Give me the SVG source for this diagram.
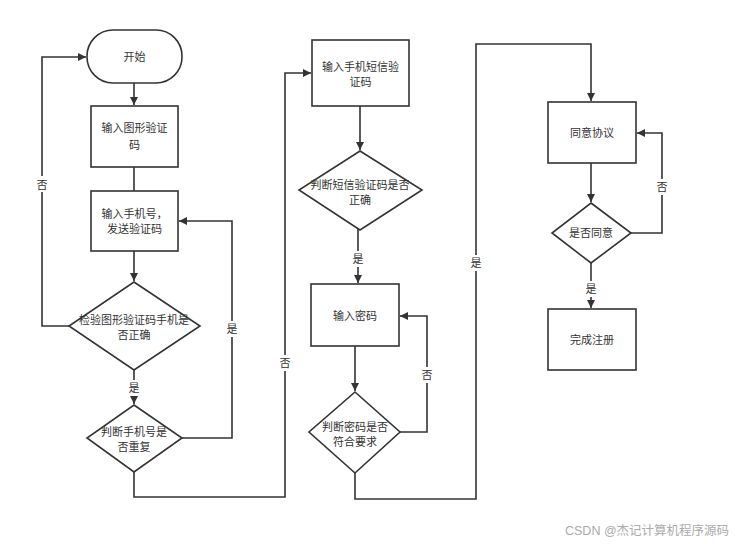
<svg xmlns="http://www.w3.org/2000/svg" width="745" height="544" viewBox="0 0 745 544">
<style>
.n{fill:#fff;stroke:#333;stroke-width:1.6}
.t{font-family:"Liberation Sans","Noto Sans CJK SC",sans-serif;font-size:11px;fill:#333;text-anchor:middle}
.c{fill:none;stroke:#333;stroke-width:1.6}
.lb{fill:#fff}
.wm{font-family:"Liberation Sans","Noto Sans CJK SC",sans-serif;font-size:12.5px;fill:#aaa}
</style>
<defs>
<marker id="a" viewBox="0 0 10 10" refX="10" refY="5" markerWidth="8" markerHeight="8" markerUnits="userSpaceOnUse" orient="auto">
<path d="M0,0 L10,5 L0,10 z" fill="#333"/>
</marker>
</defs>
<rect width="745" height="544" fill="#fff"/>
<g id="connectors">
<path class="c" d="M134,83 V105" marker-end="url(#a)"/>
<path class="c" d="M134,167 V191"/>
<path class="c" d="M134,251 V281" marker-end="url(#a)"/>
<path class="c" d="M69,326 H42 V57 H86" marker-end="url(#a)"/>
<path class="c" d="M134,370 V404" marker-end="url(#a)"/>
<path class="c" d="M182,438 H232 V221 H179" marker-end="url(#a)"/>
<path class="c" d="M134,472 V497 H285 V73 H311" marker-end="url(#a)"/>
<path class="c" d="M360,106 V150" marker-end="url(#a)"/>
<path class="c" d="M358,229 V283" marker-end="url(#a)"/>
<path class="c" d="M355,346 V391" marker-end="url(#a)"/>
<path class="c" d="M400,432 H427 V316 H400" marker-end="url(#a)"/>
<path class="c" d="M355,473 V499 H476 V44 H591 V101" marker-end="url(#a)"/>
<path class="c" d="M591,163 V202" marker-end="url(#a)"/>
<path class="c" d="M631,233 H662 V133 H637" marker-end="url(#a)"/>
<path class="c" d="M591,263 V308" marker-end="url(#a)"/>
<rect class="lb" x="35" y="176" width="14" height="16"/>
<text class="t" x="42" y="189">否</text>
<rect class="lb" x="127" y="380" width="14" height="16"/>
<text class="t" x="134" y="392">是</text>
<rect class="lb" x="225" y="321" width="14" height="16"/>
<text class="t" x="232" y="333">是</text>
<rect class="lb" x="278" y="355" width="14" height="16"/>
<text class="t" x="285" y="367">否</text>
<rect class="lb" x="351" y="251" width="14" height="16"/>
<text class="t" x="358" y="263">是</text>
<rect class="lb" x="420" y="367" width="14" height="16"/>
<text class="t" x="427" y="379">否</text>
<rect class="lb" x="469" y="255" width="14" height="16"/>
<text class="t" x="476" y="267">是</text>
<rect class="lb" x="655" y="179" width="14" height="16"/>
<text class="t" x="662" y="191">否</text>
<rect class="lb" x="584" y="281" width="14" height="16"/>
<text class="t" x="591" y="293">是</text>
</g>
<g id="start">
<rect class="n" x="87" y="30" width="95" height="53" rx="26" ry="26"/>
<text class="t" x="134.5" y="61">开始</text>
</g>
<g id="inputCaptcha">
<rect class="n" x="91" y="106" width="87" height="61"/>
<text class="t" x="134.5" y="132">输入图形验证</text>
<text class="t" x="134.5" y="149">码</text>
</g>
<g id="inputPhone">
<rect class="n" x="91" y="191" width="87" height="60"/>
<text class="t" x="134.5" y="218">输入手机号，</text>
<text class="t" x="134.5" y="233">发送验证码</text>
</g>
<g id="checkCaptcha">
<polygon class="n" points="134,282 200,326 134,370 69,326"/>
<text class="t" x="134" y="324">检验图形验证码手机是</text>
<text class="t" x="134" y="339">否正确</text>
</g>
<g id="checkDuplicate">
<polygon class="n" points="134,405 182,438 134,472 87,438"/>
<text class="t" x="134" y="436">判断手机号是</text>
<text class="t" x="134" y="451">否重复</text>
</g>
<g id="inputSms">
<rect class="n" x="312" y="40" width="97" height="66"/>
<text class="t" x="360.5" y="71">输入手机短信验</text>
<text class="t" x="360.5" y="86">证码</text>
</g>
<g id="checkSms">
<polygon class="n" points="360,151 422,190 360,230 299,190"/>
<text class="t" x="360" y="189">判断短信验证码是否</text>
<text class="t" x="360" y="204">正确</text>
</g>
<g id="inputPwd">
<rect class="n" x="311" y="284" width="88" height="62"/>
<text class="t" x="355" y="320">输入密码</text>
</g>
<g id="checkPwd">
<polygon class="n" points="355,392 400,432 355,473 309,432"/>
<text class="t" x="355" y="431">判断密码是否</text>
<text class="t" x="355" y="446">符合要求</text>
</g>
<g id="agree">
<rect class="n" x="548" y="102" width="88" height="61"/>
<text class="t" x="592" y="137">同意协议</text>
</g>
<g id="checkAgree">
<polygon class="n" points="591,203 631,233 591,263 552,233"/>
<text class="t" x="591" y="237">是否同意</text>
</g>
<g id="done">
<rect class="n" x="548" y="309" width="88" height="61"/>
<text class="t" x="592" y="344">完成注册</text>
</g>
<text class="wm" x="565" y="535">CSDN @杰记计算机程序源码</text>
</svg>
